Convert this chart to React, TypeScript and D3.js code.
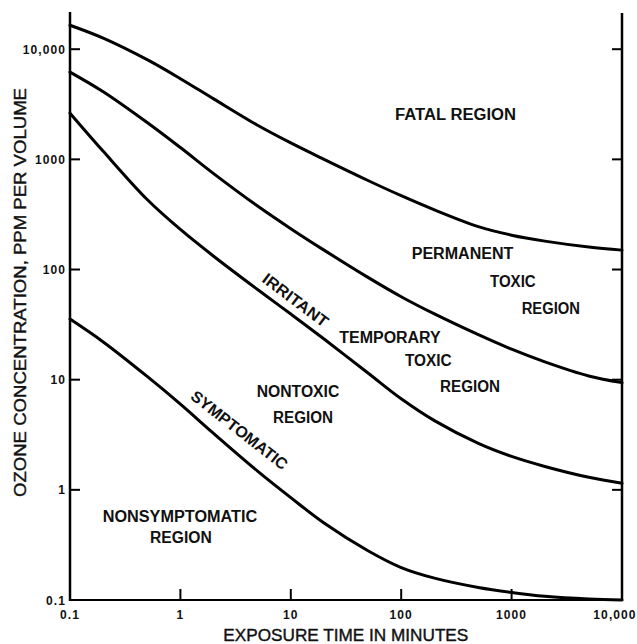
import React from 'react';
import * as d3 from 'd3';

// Exposure time (minutes) at which each boundary curve was read
const times = [0.1, 0.2, 0.5, 1, 2, 5, 10, 20, 50, 100, 200, 500, 1000, 2000, 5000, 10000];
// Ozone concentration (ppm) of each boundary curve
const fatalBoundary = [16500, 12600, 8030, 5400, 3540, 2040, 1410, 1000, 643, 468, 348, 245, 205, 181, 160, 150];
const permanentBoundary = [6200, 4110, 2160, 1280, 743, 377, 235, 150, 84.8, 56.6, 39.5, 25.6, 18.9, 14.5, 10.8, 9.4];
const irritantBoundary = [2625, 1183, 432, 231, 132, 65.8, 39.4, 23.4, 11.5, 6.71, 4.25, 2.64, 2.01, 1.63, 1.3, 1.15];
const symptomaticBoundary = [35.5, 22, 10.7, 6.0, 3.25, 1.48, 0.85, 0.5, 0.28, 0.197, 0.158, 0.13, 0.117, 0.108, 0.102, 0.1];

const xTicks = [0.1, 1, 10, 100, 1000, 10000];
const xTickLabels = ['0.1', '1', '10', '100', '1000', '10,000'];
const yTicks = [0.1, 1, 10, 100, 1000, 10000];
const yTickLabels = ['0.1', '1', '10', '100', '1000', '10,000'];

const curves = [fatalBoundary, permanentBoundary, irritantBoundary, symptomaticBoundary];

const W = 637;
const H = 644;
const left = 70;
const right = 622;
const bottom = 600;
const axisTop = 12;

export default function App() {
  const x = d3.scaleLog().domain([0.1, 10000]).range([left, right]);
  const y = d3.scaleLog().domain([0.1, 10000]).range([bottom, 49.2]);

  const line = d3
    .line<[number, number]>()
    .x((d) => x(d[0]))
    .y((d) => y(d[1]))
    .curve(d3.curveCatmullRom.alpha(0.5));

  const font = "'Liberation Sans', Arial, Helvetica, sans-serif";
  const labelStyle = { fontFamily: font, fontSize: 16, fontWeight: 700, fill: '#111' } as React.CSSProperties;

  const Label = ({ x0, y0, w, t }: { x0: number; y0: number; w: number; t: string }) => (
    <text x={x0} y={y0} textLength={w} lengthAdjust="spacingAndGlyphs" style={labelStyle}>
      {t}
    </text>
  );

  return (
    <svg width={W} height={H} style={{ position: 'absolute', left: 0, top: 0, background: '#fff' }}>
      <rect x={0} y={0} width={W} height={H} fill="#fff" />
      {/* axes */}
      <line x1={left} x2={left} y1={axisTop} y2={bottom + 1} stroke="#000" strokeWidth={2.5} />
      <line x1={right} x2={right} y1={axisTop + 1} y2={bottom + 1} stroke="#000" strokeWidth={2.5} />
      <line x1={left - 1} x2={right + 1} y1={bottom} y2={bottom} stroke="#000" strokeWidth={2.2} />

      {/* y ticks */}
      {yTicks.map((v, i) => (
        <g key={'y' + i}>
          {i > 0 && (
            <>
              <line x1={left} x2={left + 10} y1={y(v)} y2={y(v)} stroke="#000" strokeWidth={2} />
              <line x1={right} x2={right - 10} y1={y(v)} y2={y(v)} stroke="#000" strokeWidth={2} />
            </>
          )}
          <text
            x={left - 4}
            y={y(v) + 4.5}
            textAnchor="end"
            style={{ fontFamily: font, fontSize: 12, fontWeight: 700, letterSpacing: 1.1, fill: '#111' }}
          >
            {yTickLabels[i]}
          </text>
        </g>
      ))}

      {/* x ticks */}
      {xTicks.map((v, i) => (
        <g key={'x' + i}>
          {i > 0 && i < xTicks.length - 1 && (
            <line x1={x(v)} x2={x(v)} y1={bottom} y2={bottom - 11} stroke="#000" strokeWidth={2} />
          )}
          <text
            x={x(v) + (i === xTicks.length - 1 ? -7 : 0)}
            y={bottom + 19}
            textAnchor="middle"
            style={{ fontFamily: font, fontSize: 12, fontWeight: 700, letterSpacing: 1.1, fill: '#111' }}
          >
            {xTickLabels[i]}
          </text>
        </g>
      ))}

      {/* axis titles */}
      <text
        x={345.8}
        y={641}
        textAnchor="middle"
        textLength={245}
        lengthAdjust="spacingAndGlyphs"
        style={{ fontFamily: font, fontSize: 17, fontWeight: 400, fill: '#111', stroke: '#111', strokeWidth: 0.4 }}
      >
        EXPOSURE TIME IN MINUTES
      </text>
      <text
        transform="translate(25.5,292.5) rotate(-90)"
        textAnchor="middle"
        textLength={409}
        lengthAdjust="spacingAndGlyphs"
        style={{ fontFamily: font, fontSize: 17, fontWeight: 400, fill: '#111', stroke: '#111', strokeWidth: 0.4 }}
      >
        OZONE CONCENTRATION, PPM PER VOLUME
      </text>

      {/* curves */}
      {curves.map((c, i) => (
        <path
          key={'c' + i}
          d={line(times.map((t, j) => [t, c[j]] as [number, number])) || ''}
          fill="none"
          stroke="#000"
          strokeWidth={3}
          strokeLinecap="round"
        />
      ))}

      {/* region labels */}
      <Label x0={395} y0={120} w={121} t="FATAL  REGION" />
      <Label x0={411.7} y0={259} w={101.7} t="PERMANENT" />
      <Label x0={490} y0={287} w={45.7} t="TOXIC" />
      <Label x0={521.7} y0={314} w={58.3} t="REGION" />
      <Label x0={339.3} y0={343} w={101.4} t="TEMPORARY" />
      <Label x0={405} y0={366} w={46.7} t="TOXIC" />
      <Label x0={440} y0={392} w={60} t="REGION" />
      <Label x0={256.7} y0={397} w={82.6} t="NONTOXIC" />
      <Label x0={273} y0={423} w={60} t="REGION" />
      <Label x0={102.7} y0={522} w={154.6} t="NONSYMPTOMATIC" />
      <Label x0={150} y0={543} w={61.7} t="REGION" />

      <text
        transform="translate(295.5,300) rotate(37)"
        y={5.7}
        textAnchor="middle"
        textLength={78}
        lengthAdjust="spacingAndGlyphs"
        style={labelStyle}
      >
        IRRITANT
      </text>
      <text
        transform="translate(239.5,430) rotate(38)"
        y={5.7}
        textAnchor="middle"
        textLength={118}
        lengthAdjust="spacingAndGlyphs"
        style={labelStyle}
      >
        SYMPTOMATIC
      </text>
    </svg>
  );
}
